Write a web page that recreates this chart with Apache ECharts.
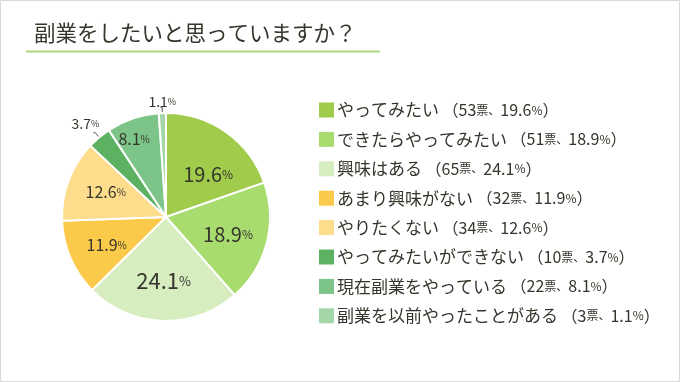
<!DOCTYPE html>
<html><head><meta charset="utf-8">
<script src="https://cdn.jsdelivr.net/npm/echarts@6/dist/echarts.min.js"></script>
<style>html,body{margin:0;padding:0;background:#fff}#c{width:680px;height:382px}</style>
</head><body><div id="c"></div>
<script>
const titleText = '副業をしたいと思っていますか？';
const names = ['やってみたい','できたらやってみたい','興味はある','あまり興味がない','やりたくない','やってみたいができない','現在副業をやっている','副業を以前やったことがある'];
const votes = [53, 51, 65, 32, 34, 10, 22, 3];
const pcts = ['19.6','18.9','24.1','11.9','12.6','3.7','8.1','1.1'];
const colors = ['#a0cb4b','#a9dc6f','#d6edc0','#fcca4a','#fddc8c','#5db262','#7cc487','#a3d7a9'];
const labelClass = ['m','m','b','s','s','x','s','x'];
const outsideIdx = [5, 7];

const font = '"Noto Sans CJK JP", "Noto Sans", sans-serif';
const txt = '#35352c';
const CX = 166, CY = 217, R = 104;
const push = { 6: 1.5 };
const extraShift = { 0: [2, 11] };
const outShift = { 5: [11, -9], 7: [21, -5] };
const chart = echarts.init(document.getElementById('c'));
const data = names.map((n, i) => {
  const d = { name: n, value: votes[i] };
  if (outsideIdx.indexOf(i) >= 0) {
    d.label = { position: 'outside' };
    d.labelLine = { show: true, length: 6, length2: 2, lineStyle: { color: '#555', width: 1 } };
  }
  return d;
});
chart.setOption({
  animation: false,
  color: colors,
  graphic: [
    { type: 'rect', shape: { x: 0.5, y: 0.5, width: 679, height: 381 }, style: { fill: 'none', stroke: '#d9d9d9', lineWidth: 1 }, silent: true },
    { type: 'text', left: 34, top: 22, style: { text: titleText, font: '21.5px ' + font, fill: txt } },
    { type: 'line', shape: { x1: 26, y1: 51.5, x2: 380, y2: 51.5 }, style: { stroke: '#a9d77c', lineWidth: 2 } }
  ],
  legend: {
    orient: 'vertical',
    left: 314, top: 95,
    itemWidth: 15, itemHeight: 15, itemGap: 9.4,
    icon: 'rect',
    itemStyle: { borderWidth: 0 },
    data: names,
    textStyle: { fontFamily: font, fontSize: 17, color: txt, lineHeight: 20, padding: [0,0,0,-2],
      rich: {
        p: { fontFamily: font, fontSize: 16, color: txt, lineHeight: 20 },
        n: { fontFamily: font, fontSize: 16, color: txt, lineHeight: 20 },
        s: { fontFamily: font, fontSize: 12, color: txt, lineHeight: 20 }
      } },
    formatter: function (name) {
      const i = names.indexOf(name);
      return name + '{p| （}{n|' + votes[i] + '}{s|票、}{n|' + pcts[i] + '}{s|%}{p|）}';
    }
  },
  series: [{
    type: 'pie',
    center: [CX, CY],
    radius: [0, R],
    startAngle: 90,
    clockwise: true,
    data: data,
    itemStyle: { borderColor: '#fff', borderWidth: 2 },
    emphasis: { disabled: true },
    label: {
      show: true,
      position: 'inside',
      color: txt,
      fontFamily: font,
      formatter: function (p) {
        const c = labelClass[p.dataIndex];
        return '{' + c + '|' + pcts[p.dataIndex] + '}{' + c + 'p|%}';
      },
      rich: {
        b: { fontFamily: font, fontSize: 22, color: txt },
        bp: { fontFamily: font, fontSize: 13, color: txt },
        m: { fontFamily: font, fontSize: 20, color: txt },
        mp: { fontFamily: font, fontSize: 12, color: txt },
        s: { fontFamily: font, fontSize: 16, color: txt },
        sp: { fontFamily: font, fontSize: 10, color: txt },
        x: { fontFamily: font, fontSize: 14, color: txt },
        xp: { fontFamily: font, fontSize: 9, color: txt }
      }
    },
    labelLayout: function (params) {
      const i = params.dataIndex;
      if (outShift[i]) return { dx: outShift[i][0], dy: outShift[i][1] };
      const r = params.rect;
      const lx = r.x + r.width / 2, ly = r.y + r.height / 2;
      const k = (push[i] || 1.17) - 1;
      const e = extraShift[i] || [0, 0];
      return { dx: (lx - CX) * k + e[0], dy: (ly - CY) * k + e[1] };
    },
    labelLine: { show: false }
  }]
});
</script></body></html>
